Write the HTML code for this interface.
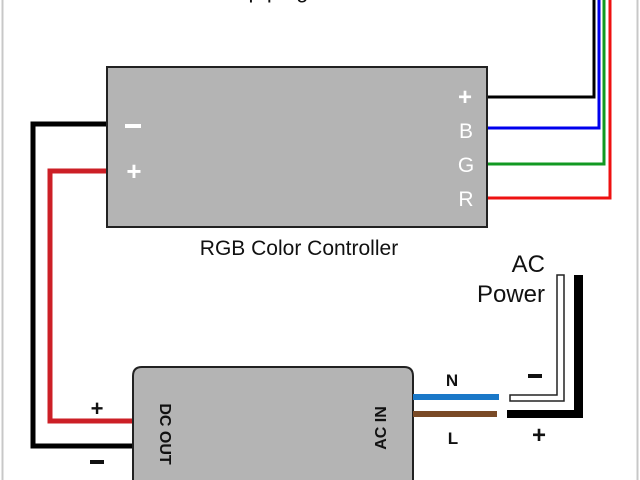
<!DOCTYPE html>
<html><head><style>html,body{margin:0;padding:0;background:#fff}svg{display:block}</style></head>
<body>
<svg width="640" height="480" viewBox="0 0 640 480" xmlns="http://www.w3.org/2000/svg" font-family="Liberation Sans, sans-serif">
<rect x="0" y="0" width="640" height="480" fill="#fff"/>
<line x1="2.5" y1="0" x2="2.5" y2="480" stroke="#c8c8c8" stroke-width="2"/>
<line x1="637.5" y1="0" x2="637.5" y2="480" stroke="#c8c8c8" stroke-width="2"/>
<text x="262" y="-2" font-size="22" text-anchor="middle" fill="#111">Strip plug</text>
<polyline points="487,97 594,97 594,0" fill="none" stroke="#000" stroke-width="3"/>
<polyline points="487,128 599,128 599,0" fill="none" stroke="#0000ee" stroke-width="3"/>
<polyline points="487,164 604,164 604,0" fill="none" stroke="#119922" stroke-width="3"/>
<polyline points="487,198 610,198 610,0" fill="none" stroke="#ee1111" stroke-width="3"/>
<polyline points="108,124 33,124 33,446 135,446" fill="none" stroke="#000" stroke-width="5"/>
<polyline points="108,171 50,171 50,421 135,421" fill="none" stroke="#cc1f26" stroke-width="5"/>
<rect x="107" y="67" width="380" height="160" fill="#b4b4b4" stroke="#222" stroke-width="2"/>
<rect x="125" y="124" width="16" height="4" fill="#fff"/>
<text x="134" y="180" font-size="26" font-weight="bold" fill="#fff" text-anchor="middle">+</text>
<text x="465" y="105" font-size="24" font-weight="bold" fill="#fff" text-anchor="middle">+</text>
<text x="466" y="138" font-size="21" fill="#fff" text-anchor="middle">B</text>
<text x="466" y="172" font-size="21" fill="#fff" text-anchor="middle">G</text>
<text x="466" y="206" font-size="21" fill="#fff" text-anchor="middle">R</text>
<text x="299" y="255" font-size="21" fill="#111" text-anchor="middle">RGB Color Controller</text>
<path d="M133,490 L133,376 Q133,367 142,367 L404,367 Q413,367 413,376 L413,490 Z" fill="#b4b4b4" stroke="#222" stroke-width="2"/>
<text transform="translate(160,434) rotate(90)" font-size="16" font-weight="bold" fill="#111" text-anchor="middle">DC OUT</text>
<text transform="translate(386,428) rotate(-90)" font-size="16" font-weight="bold" fill="#111" text-anchor="middle">AC IN</text>
<text x="97" y="416" font-size="22" font-weight="bold" fill="#111" text-anchor="middle">+</text>
<rect x="90" y="460" width="14" height="4" fill="#111"/>
<rect x="413" y="394" width="86" height="6" fill="#1a78c8"/>
<rect x="413" y="411" width="84" height="6" fill="#7a4a26"/>
<text x="452" y="386" font-size="17" font-weight="bold" fill="#111" text-anchor="middle">N</text>
<text x="453" y="444" font-size="17" font-weight="bold" fill="#111" text-anchor="middle">L</text>
<path d="M557,275 L564,275 L564,401 L510,401 L510,395 L557,395 Z" fill="#fff" stroke="#222" stroke-width="1.5"/>
<path d="M574,275 L583,275 L583,418 L507,418 L507,410 L574,410 Z" fill="#000"/>
<rect x="528" y="374" width="14" height="4" fill="#111"/>
<text x="539" y="443" font-size="24" font-weight="bold" fill="#111" text-anchor="middle">+</text>
<text x="545" y="272" font-size="24" fill="#111" text-anchor="end">AC</text>
<text x="545" y="302" font-size="24" fill="#111" text-anchor="end">Power</text>
</svg>
</body></html>
